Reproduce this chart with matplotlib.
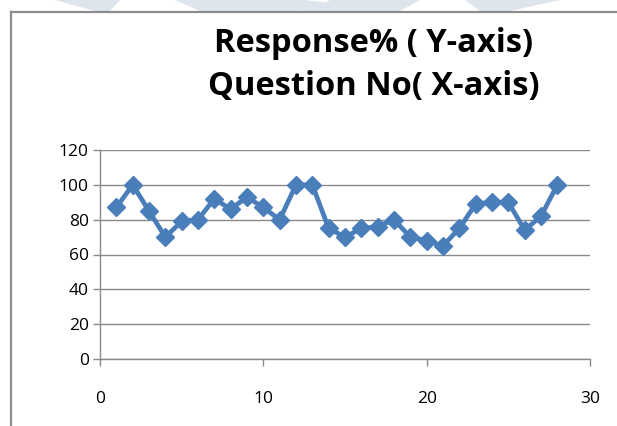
import matplotlib
matplotlib.use("Agg")
import matplotlib.pyplot as plt
from matplotlib.patches import Polygon
from matplotlib.lines import Line2D

question_no = list(range(1, 29))
response_pct = [87, 100, 85, 70, 79, 80, 92, 86, 93, 87, 80, 100, 100, 75,
                70, 75, 76, 80, 70, 68, 65, 75, 89, 90, 90, 74, 82, 100]
x_ticks = [0, 10, 20, 30]
y_ticks = [0, 20, 40, 60, 80, 100, 120]
title = "Response% ( Y-axis)\nQuestion No( X-axis)"

W, H = 617, 426
fig = plt.figure(figsize=(W / 100, H / 100), dpi=100)
fig.patch.set_facecolor("white")

# faint watermark shapes at top
wm = "#dfe5ec"
def px(x, y):
    return (x / W, 1 - y / H)
for poly in [
    [(55, 0), (120, 0), (110, 11), (95, 11)],
    [(175, 0), (240, 0), (305, 11), (200, 11)],
    [(240, 0), (305, 11), (395, 11), (305, 0)],
    [(330, 0), (420, 0), (400, 11), (310, 11)],
    [(465, 0), (560, 0), (510, 11), (480, 11)],
]:
    fig.patches.append(Polygon([px(*p) for p in poly], closed=True,
                               transform=fig.transFigure, facecolor=wm,
                               edgecolor="none", zorder=0))

# outer chart frame (left and top edges visible)
fig.lines.append(Line2D([11 / W, 11 / W], [0, 1 - 11.5 / H],
                        transform=fig.transFigure, color="#8c8c8c", lw=1.6))
fig.lines.append(Line2D([11 / W, 1], [1 - 11.5 / H, 1 - 11.5 / H],
                        transform=fig.transFigure, color="#8c8c8c", lw=1.6))

ax = fig.add_axes([100 / W, 1 - 359 / H, 490 / W, 209 / H])
ax.set_xlim(0, 30)
ax.set_ylim(0, 120)
ax.set_xticks(x_ticks)
ax.set_yticks(y_ticks)
ax.yaxis.grid(True, color="#8a8a8a", lw=1.0)
ax.set_axisbelow(True)
for s in ["top", "right"]:
    ax.spines[s].set_visible(False)
for s in ["left", "bottom"]:
    ax.spines[s].set_color("#8a8a8a")
    ax.spines[s].set_linewidth(1.0)

ax.plot(question_no, response_pct, color="#4a7ebb", lw=3.4, marker="D",
        markersize=9.5, markerfacecolor="#4a7ebb", markeredgecolor="#4a7ebb",
        clip_on=False, zorder=3)

ax.tick_params(axis="both", colors="#8a8a8a", length=5, width=1.0,
               labelcolor="black", labelsize=12.5)
ax.tick_params(axis="y", pad=3)
ax.tick_params(axis="x", pad=18)
for lbl in ax.get_xticklabels() + ax.get_yticklabels():
    lbl.set_fontfamily("Open Sans")

fig.text(374 / W, 1 - 65 / H, title, ha="center", va="center",
         fontsize=23.5, fontweight="bold", family="Open Sans",
         linespacing=1.38)

fig.savefig("out.png", dpi=100)
